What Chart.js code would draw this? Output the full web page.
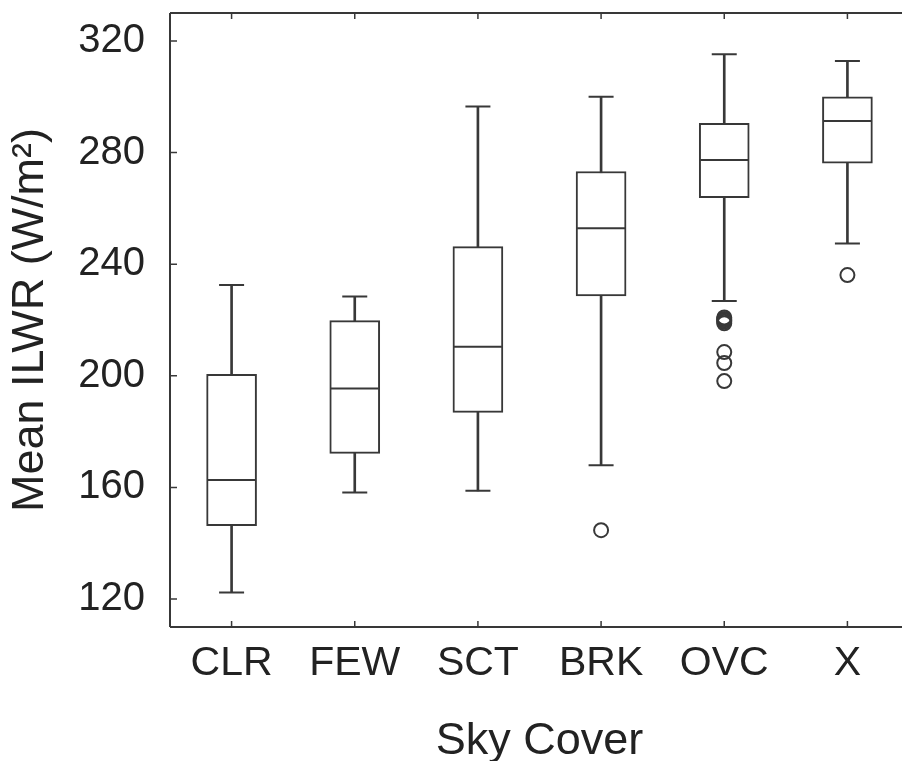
<!DOCTYPE html>
<html>
<head>
<meta charset="utf-8">
<title>Mean ILWR by Sky Cover</title>
<script src="https://cdn.jsdelivr.net/npm/chart.js@4"></script>
<style>
  html, body { margin:0; padding:0; background:#fff; overflow:hidden; }
</style>
</head>
<body>
<canvas id="boxChart" width="910" height="761"></canvas>
<script>
// data
const categories = ['CLR', 'FEW', 'SCT', 'BRK', 'OVC', 'X'];
const whiskerLow  = [122.4, 158.2, 158.8, 168.0, 226.8, 247.4];
const q1          = [146.3, 172.2, 186.9, 228.6, 263.8, 276.2];
const medians     = [162.7, 195.5, 210.4, 252.9, 277.3, 291.3];
const q3          = [200.5, 219.8, 246.3, 273.2, 290.5, 300.0];
const whiskerHigh = [232.5, 228.4, 296.5, 300.0, 315.2, 312.8];
const outlierCats = ['BRK', 'OVC', 'OVC', 'OVC', 'OVC', 'OVC', 'OVC', 'OVC', 'OVC', 'X'];
const outlierVals = [144.7, 220.9, 220.4, 219.9, 219.4, 218.8, 208.5, 204.6, 198.1, 236.1];
const yTicks = [120, 160, 200, 240, 280, 320];

const ink = '#383838';
const textInk = '#222222';
const fontFamily = "'Liberation Sans', Arial, sans-serif";

// axis frame with inward ticks (left, top, bottom)
const framePlugin = {
  id: 'frame',
  afterDraw(chart) {
    const {ctx, chartArea, scales} = chart;
    const {left, right, top, bottom} = chartArea;
    ctx.save();
    ctx.strokeStyle = ink;
    ctx.lineWidth = 2;
    ctx.beginPath();
    ctx.moveTo(left, top); ctx.lineTo(right, top);
    ctx.moveTo(left, top); ctx.lineTo(left, bottom);
    ctx.moveTo(left, bottom); ctx.lineTo(right, bottom);
    ctx.stroke();

    ctx.lineWidth = 1.5;
    ctx.beginPath();
    scales.y.ticks.forEach((t, i) => {
      const py = scales.y.getPixelForTick(i);
      ctx.moveTo(left, py); ctx.lineTo(left + 7, py);
    });
    scales.x.ticks.forEach((t, i) => {
      const px = scales.x.getPixelForTick(i);
      ctx.moveTo(px, bottom); ctx.lineTo(px, bottom - 6);
      ctx.moveTo(px, top); ctx.lineTo(px, top + 6);
    });
    ctx.stroke();
    ctx.restore();
  }
};

const ctx = document.getElementById('boxChart').getContext('2d');
const chart = new Chart(ctx, {
  data: {
    labels: categories,
    datasets: [
      {
        // whisker stems
        type: 'bar',
        data: categories.map((c, i) => [whiskerLow[i], whiskerHigh[i]]),
        backgroundColor: ink,
        barThickness: 2,
        grouped: false,
        order: 4
      },
      {
        // boxes q1..q3
        type: 'bar',
        data: categories.map((c, i) => [q1[i], q3[i]]),
        backgroundColor: '#ffffff',
        borderColor: ink,
        borderWidth: 2,
        borderSkipped: false,
        barThickness: 50,
        grouped: false,
        order: 3
      },
      {
        // whisker caps
        type: 'line',
        showLine: false,
        data: categories.flatMap((c, i) => [{x: c, y: whiskerLow[i]}, {x: c, y: whiskerHigh[i]}]),
        pointStyle: 'line',
        pointRadius: 12.5,
        borderColor: ink,
        borderWidth: 2,
        order: 2
      },
      {
        // medians
        type: 'line',
        showLine: false,
        data: categories.map((c, i) => ({x: c, y: medians[i]})),
        pointStyle: 'line',
        pointRadius: 24,
        borderColor: ink,
        borderWidth: 2,
        order: 1
      },
      {
        // outliers
        type: 'line',
        showLine: false,
        data: outlierCats.map((c, i) => ({x: c, y: outlierVals[i]})),
        pointStyle: 'circle',
        pointRadius: 7,
        backgroundColor: 'rgba(0,0,0,0)',
        borderColor: ink,
        borderWidth: 2,
        order: 0
      }
    ]
  },
  options: {
    responsive: false,
    animation: false,
    events: [],
    layout: { autoPadding: false, padding: { left: 4, top: 13, right: 1, bottom: 0 } },
    plugins: {
      legend: { display: false },
      tooltip: { enabled: false }
    },
    scales: {
      x: {
        type: 'category',
        offset: true,
        grid: { display: false, drawTicks: false },
        border: { display: false },
        ticks: {
          padding: 12,
          color: textInk,
          font: { family: fontFamily, size: 41 }
        },
        title: {
          display: true,
          text: 'Sky Cover',
          color: textInk,
          padding: 0,
          font: { family: fontFamily, size: 45, lineHeight: 0.85 }
        },
        afterFit(scale) {
          scale.height = 134;
          scale.paddingLeft = 0;
          scale.paddingRight = 0;
        }
      },
      y: {
        type: 'linear',
        min: 110,
        max: 330,
        grid: { display: false, drawTicks: false },
        border: { display: false },
        afterBuildTicks(axis) { axis.ticks = yTicks.map(v => ({value: v})); },
        ticks: {
          padding: 25,
          color: textInk,
          font: { family: fontFamily, size: 40 }
        },
        title: {
          display: true,
          text: 'Mean ILWR (W/m²)',
          color: textInk,
          padding: 0,
          font: { family: fontFamily, size: 45, lineHeight: 1.2 }
        },
        afterFit(scale) {
          scale.width = 166;
          scale.paddingTop = 0;
          scale.paddingBottom = 0;
        }
      }
    }
  },
  plugins: [framePlugin]
});
</script>
</body>
</html>
